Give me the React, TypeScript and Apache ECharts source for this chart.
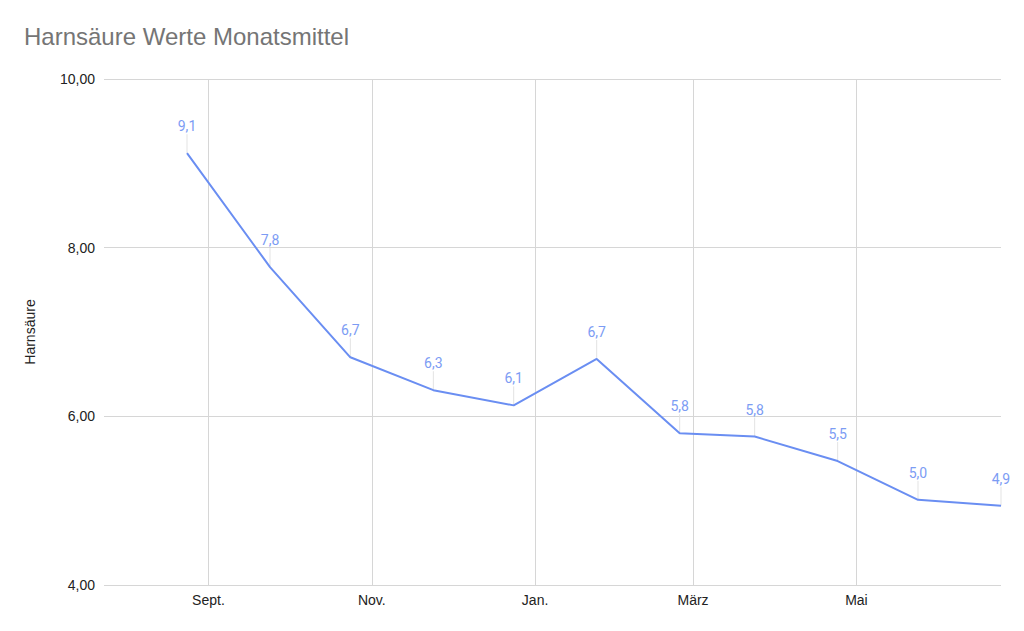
import React, { useEffect, useRef } from "react";
import * as echarts from "echarts";

const dates = [
  "2022-08-24", "2022-09-24", "2022-10-24", "2022-11-24", "2022-12-24",
  "2023-01-24", "2023-02-24", "2023-03-24", "2023-04-24", "2023-05-24", "2023-06-24",
];
const values = [9.12, 7.77, 6.7, 6.31, 6.13, 6.68, 5.8, 5.76, 5.47, 5.01, 4.94];
const tickMonths: [number, number][] = [
  [2022, 8], [2022, 10], [2023, 0], [2023, 2], [2023, 4],
];
const monthNames = ["Jan.", "Feb.", "März", "Apr.", "Mai", "Juni", "Juli", "Aug.", "Sept.", "Okt.", "Nov.", "Dez."];
const yTicks = [4, 6, 8, 10];

const ts = (s: string) => {
  const [y, m, d] = s.split("-").map(Number);
  return Date.UTC(y, m - 1, d);
};

export default function App() {
  const ref = useRef<HTMLDivElement>(null);
  useEffect(() => {
    const chart = echarts.init(ref.current!, null, { renderer: "svg" });
    const data = dates.map((d, i) => [ts(d), values[i]]);
    const tickVals = tickMonths.map(([y, m]) => Date.UTC(y, m, 1));
    chart.setOption({
      animation: false,
      backgroundColor: "#ffffff",
      title: {
        text: "Harnsäure Werte Monatsmittel",
        left: 24,
        top: 24,
        padding: 0,
        textStyle: { fontFamily: "Liberation Sans, Arial", fontSize: 24, fontWeight: "normal", color: "#757575" },
      },
      grid: { left: 104, right: 23, top: 79, bottom: 46, containLabel: false },
      xAxis: {
        type: "value",
        min: ts("2022-07-24"),
        max: ts("2023-06-24"),
        axisLine: { show: false },
        axisTick: { show: false, customValues: tickVals },
        axisLabel: {
          customValues: tickVals,
          margin: 8,
          fontFamily: "Liberation Sans, Arial",
          fontSize: 14,
          color: "#222222",
          formatter: (v: number) => monthNames[new Date(v).getUTCMonth()],
        },
        splitLine: { show: true, lineStyle: { color: "#d6d6d6", width: 1 } },
      },
      yAxis: {
        type: "value",
        min: 4,
        max: 10,
        interval: 2,
        name: "Harnsäure",
        nameLocation: "middle",
        nameGap: 67,
        nameRotate: 90,
        nameTextStyle: { fontFamily: "Liberation Sans, Arial", fontSize: 14, color: "#222222" },
        axisLine: { show: false },
        axisTick: { show: false },
        axisLabel: {
          margin: 9,
          fontFamily: "Liberation Sans, Arial",
          fontSize: 14,
          color: "#222222",
          formatter: (v: number) => (yTicks.includes(v) ? v.toFixed(2).replace(".", ",") : ""),
        },
        splitLine: { show: true, lineStyle: { color: "#d6d6d6", width: 1 } },
      },
      series: [
        {
          type: "custom",
          data,
          z: 1,
          renderItem: (params: any, api: any) => {
            const p = api.coord([api.value(0), api.value(1)]);
            const txt = Number(api.value(1)).toFixed(1).replace(".", ",");
            return {
              type: "group",
              children: [
                {
                  type: "line",
                  shape: { x1: p[0], y1: p[1], x2: p[0], y2: p[1] - 19 },
                  style: { stroke: "#e3e3e3", lineWidth: 1 },
                },
                {
                  type: "text",
                  x: p[0],
                  y: p[1] - 27,
                  style: {
                    text: txt,
                    fill: "#7c9cf4",
                    font: "14px Roboto",
                    align: "center",
                    verticalAlign: "middle",
                  },
                },
              ],
            };
          },
        },
        {
          type: "line",
          data,
          z: 3,
          symbol: "none",
          lineStyle: { color: "#6a8ef2", width: 2 },
        },
      ],
    });
    return () => chart.dispose();
  }, []);
  return <div ref={ref} style={{ width: 1024, height: 631, position: "absolute", left: 0, top: 0 }} />;
}
